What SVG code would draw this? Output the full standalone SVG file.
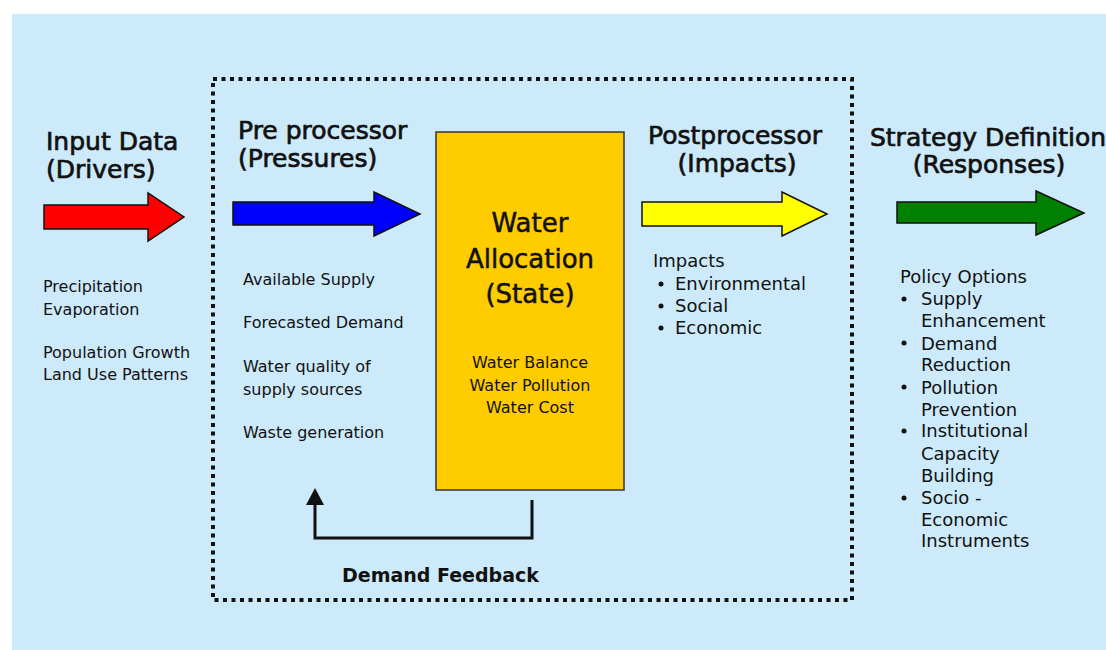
<svg xmlns="http://www.w3.org/2000/svg" width="1106" height="650" viewBox="0 0 1106 650">
<style>
text{font-family:"DejaVu Sans","Liberation Sans",sans-serif;fill:#111}
.hd{font-size:25px;stroke:#111;stroke-width:0.7}
.bd{font-size:16px}
.lst{font-size:18px}
.st{font-size:26px;stroke:#111;stroke-width:0.5}
.sm{font-size:16px}
.fb{font-size:19px;font-weight:bold}
.arr{stroke:#111;stroke-width:1.5;stroke-linejoin:miter}
.bul{fill:#111}
</style>
<defs>
<marker id="ah" markerUnits="userSpaceOnUse" viewBox="0 0 17 18" markerWidth="17" markerHeight="18" refX="0" refY="9" orient="auto">
<path d="M0,0 L17,9 L0,18 z" fill="#111"/>
</marker>
</defs>
<rect x="12" y="14" width="1094" height="636" fill="#CCEAFA"/>
<g id="frame">
<rect x="213" y="79" width="639" height="521" fill="none" stroke="#111" stroke-width="4" stroke-dasharray="4 4.5"/>
</g>
<g id="drivers">
<polygon class="arr" points="44,205 148,205 148,193 184,217 148,241 148,229 44,229" fill="#FF0000"/>
<text class="hd" x="46" y="150">Input Data</text>
<text class="hd" x="46" y="178">(Drivers)</text>
<text class="bd" x="43" y="292">Precipitation</text>
<text class="bd" x="43" y="315">Evaporation</text>
<text class="bd" x="43" y="358">Population Growth</text>
<text class="bd" x="43" y="380">Land Use Patterns</text>
</g>
<g id="pressures">
<polygon class="arr" points="233,202 374,202 374,192 420,214 374,236 374,225 233,225" fill="#0000FF"/>
<text class="hd" x="238" y="139">Pre processor</text>
<text class="hd" x="238" y="167">(Pressures)</text>
<text class="bd" x="243" y="285">Available Supply</text>
<text class="bd" x="243" y="328">Forecasted Demand</text>
<text class="bd" x="243" y="372">Water quality of</text>
<text class="bd" x="243" y="395">supply sources</text>
<text class="bd" x="243" y="438">Waste generation</text>
</g>
<g id="state">
<rect x="436" y="132" width="188" height="358" fill="#FFCC00" stroke="#333" stroke-width="1.5"/>
<text class="st" x="530" y="232" text-anchor="middle">Water</text>
<text class="st" x="530" y="268" text-anchor="middle">Allocation</text>
<text class="st" x="530" y="303" text-anchor="middle">(State)</text>
<text class="sm" x="530" y="368" text-anchor="middle">Water Balance</text>
<text class="sm" x="530" y="391" text-anchor="middle">Water Pollution</text>
<text class="sm" x="530" y="413" text-anchor="middle">Water Cost</text>
</g>
<g id="impacts">
<polygon class="arr" points="642,202 782,202 782,192 827,214 782,236 782,226 642,226" fill="#FFFF00"/>
<text class="hd" x="735" y="144" text-anchor="middle">Postprocessor</text>
<text class="hd" x="737" y="172" text-anchor="middle">(Impacts)</text>
<text class="lst" x="653" y="267">Impacts</text>
<circle class="bul" cx="661" cy="284" r="2.5"/>
<circle class="bul" cx="661" cy="306" r="2.5"/>
<circle class="bul" cx="661" cy="328" r="2.5"/>
<text class="lst" x="675" y="290">Environmental</text>
<text class="lst" x="675" y="312">Social</text>
<text class="lst" x="675" y="334">Economic</text>
</g>
<g id="responses">
<polygon class="arr" points="897,202 1036,202 1036,191 1084,213 1036,235 1036,223 897,223" fill="#008000"/>
<text class="hd" x="988" y="146" text-anchor="middle">Strategy Definition</text>
<text class="hd" x="989" y="173" text-anchor="middle">(Responses)</text>
<text class="lst" x="900" y="283">Policy Options</text>
<circle class="bul" cx="904" cy="299" r="2.5"/>
<circle class="bul" cx="904" cy="343" r="2.5"/>
<circle class="bul" cx="904" cy="387" r="2.5"/>
<circle class="bul" cx="904" cy="431" r="2.5"/>
<circle class="bul" cx="904" cy="498" r="2.5"/>
<text class="lst" x="921" y="305">Supply</text>
<text class="lst" x="921" y="327">Enhancement</text>
<text class="lst" x="921" y="350">Demand</text>
<text class="lst" x="921" y="371">Reduction</text>
<text class="lst" x="921" y="394">Pollution</text>
<text class="lst" x="921" y="416">Prevention</text>
<text class="lst" x="921" y="437">Institutional</text>
<text class="lst" x="921" y="460">Capacity</text>
<text class="lst" x="921" y="482">Building</text>
<text class="lst" x="921" y="504">Socio -</text>
<text class="lst" x="921" y="526">Economic</text>
<text class="lst" x="921" y="547">Instruments</text>
</g>
<g id="connectors">
<path d="M532,500 V538 H315 V505" fill="none" stroke="#111" stroke-width="3" marker-end="url(#ah)"/>
</g>
<g id="feedback-label">
<text class="fb" x="342" y="582">Demand Feedback</text>
</g>
</svg>
